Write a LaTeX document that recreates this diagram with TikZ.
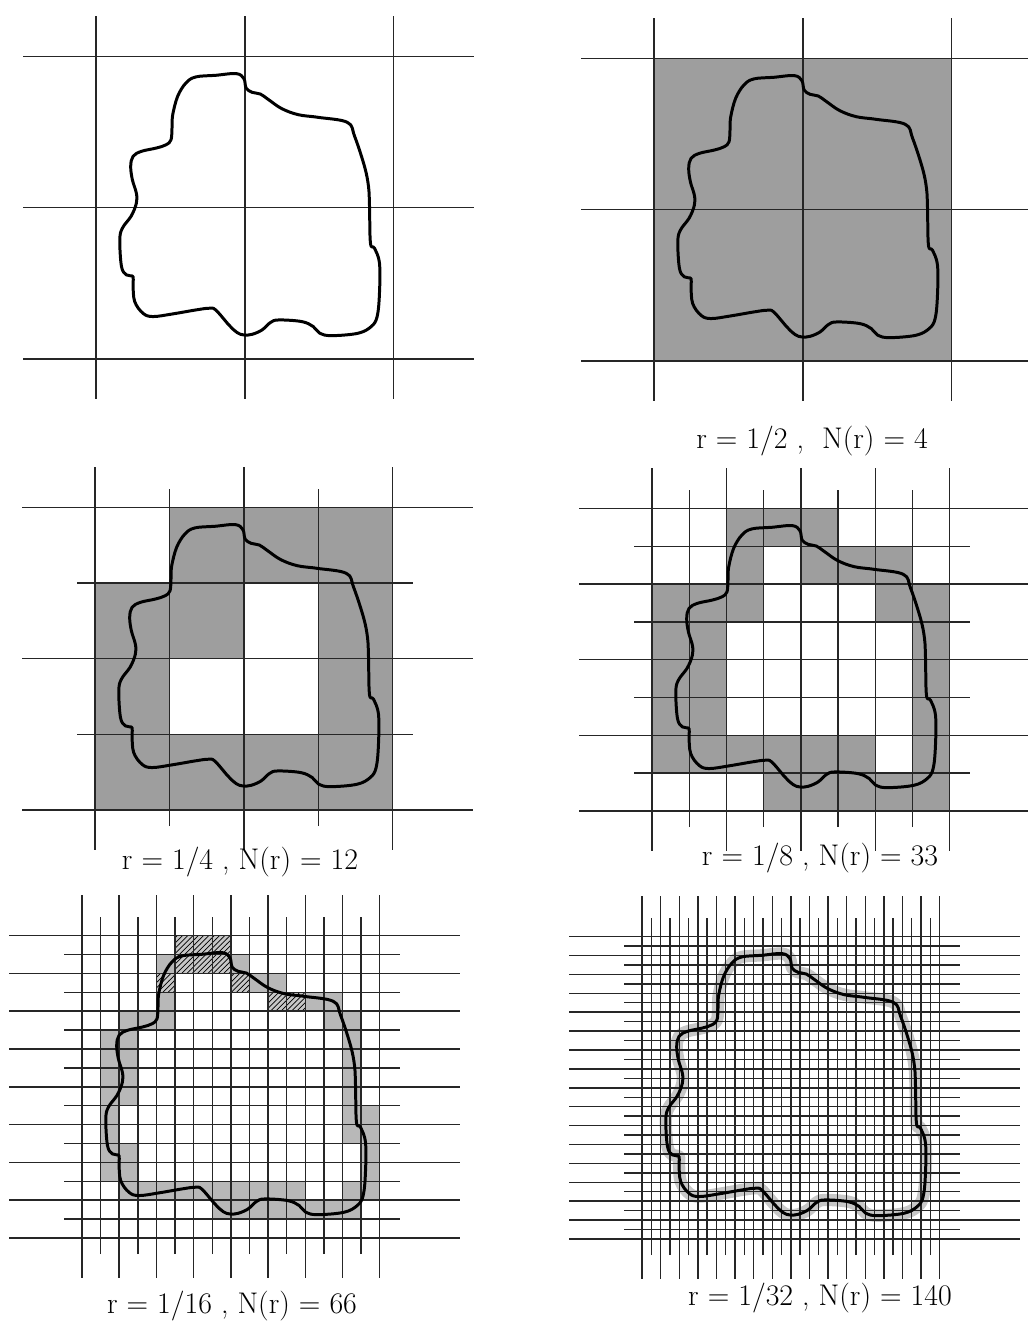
\documentclass[tikz,border=0pt]{standalone}
\usetikzlibrary{patterns}

% outline of the region, in square units (the box is 32 x 32)
\newcommand{\blobpath}{plot[smooth cycle, tension=0.6] coordinates {
    (8.25,25.85) (8.78,27.80) (9.67,29.21) (10.74,29.85) (12.87,30.02) (15.08,30.20)
    (15.90,29.67) (16.14,28.68) (16.78,28.22) (17.67,28.04) (18.56,27.44) (19.98,26.49)
    (21.76,25.85) (23.90,25.57) (27.03,25.04) (27.81,23.56) (28.87,20.38) (29.30,18.26)
    (29.41,16.14) (29.51,12.26) (29.94,11.73) (30.48,10.14) (30.48,6.96) (30.23,4.49)
    (29.59,3.43) (28.16,2.72) (25.32,2.47) (24.07,2.72) (23.36,3.43) (22.12,3.96)
    (19.63,4.13) (18.74,3.85) (17.85,3.07) (16.78,2.61) (15.90,2.54) (15.18,2.79)
    (14.29,3.60) (12.87,5.19) (12.16,5.37) (10.74,5.19) (8.25,4.77) (6.12,4.49)
    (5.05,4.84) (4.16,6.08) (3.98,7.84) (3.98,8.72) (3.27,8.90) (2.74,9.78)
    (2.56,12.61) (2.84,13.85) (3.80,15.15) (4.34,16.49) (4.34,17.55) (3.91,18.97)
    (3.73,20.38) (3.98,21.44) (4.87,21.97) (6.47,22.32) (7.54,22.67) (8.07,23.21)
    (8.18,24.62)}}

% grid of #1 x #1 boxes, every other line drawn longer
\newcommand{\boxgrid}[1]{%
    \foreach \i in {0,...,#1} {
        \pgfmathsetmacro{\pos}{\i*32/#1}
        \pgfmathtruncatemacro{\longline}{(mod(\i,2)==0) || (#1==2)}
        \ifnum\longline=1
            \draw[gridline] (-7.8,\pos) -- (40.6,\pos);
            \draw[gridline] (\pos,-4.2) -- (\pos,36.3);
        \else
            \draw[gridline] (-1.9,\pos) -- (34.2,\pos);
            \draw[gridline] (\pos,-1.7) -- (\pos,34.0);
        \fi
    }%
}

% occupied boxes: #1 = box size, #2 = list row/{columns}, rows counted from the top
\newcommand{\boxcells}[2]{%
    \foreach \r/\cols in {#2} {
        \foreach \c in \cols {
            \fill[cellfill] ({\c*#1},{32-(\r+1)*#1}) rectangle ++(#1,#1);
        }
    }%
}

\begin{document}
\begin{tikzpicture}[
        x=1cm,
        y=1cm,
        gridline/.style={line width=0.8pt, black!85},
        cellfill/.style={fill=black!38},
        hatchcell/.style={fill=black!22, postaction={pattern=north east lines, pattern color=black}},
        blob/.style={line width=1.7pt, line join=round},
        boundaryband/.style={line width=7pt, black!22, line join=round},
        panel/.style={x=0.186cm, y=0.189cm},
        caption/.style={font=\fontsize{17}{20}\selectfont, inner sep=1pt}
    ]
    \useasboundingbox (0,0) rectangle (20.56,26.58);

    % the region alone
    \begin{scope}[shift={(1.92,19.40)}, panel]
        \boxgrid{2}
        \draw[blob] \blobpath;
    \end{scope}

    % r = 1/2
    \begin{scope}[shift={(13.08,19.36)}, panel]
        \fill[cellfill] (0,0) rectangle (32,32);
        \boxgrid{2}
        \draw[blob] \blobpath;
    \end{scope}
    \node[caption] (half) at (16.24,17.76) {r = 1/2 ,\ \ N(r) = 4};

    % r = 1/4
    \begin{scope}[shift={(1.90,10.38)}, panel]
        \boxcells{8}{0/{1,2,3}, 1/{0,1,3}, 2/{0,3}, 3/{0,1,2,3}}
        \boxgrid{4}
        \draw[blob] \blobpath;
    \end{scope}
    \node[caption] (quarter) at (4.80,9.34) {r = 1/4 , N(r) = 12};

    % r = 1/8
    \begin{scope}[shift={(13.04,10.36)}, panel]
        \boxcells{4}{0/{2,3,4}, 1/{2,4,5,6}, 2/{0,1,2,6,7}, 3/{0,1,7}, 4/{0,1,7},
            5/{0,1,7}, 6/{0,1,2,3,4,5,7}, 7/{3,4,5,6,7}}
        \boxgrid{8}
        \draw[blob] \blobpath;
    \end{scope}
    \node[caption] (eighth) at (16.40,9.42) {r = 1/8 , N(r) = 33};

    % r = 1/16
    \begin{scope}[shift={(1.64,1.82)}, panel, cellfill/.style={fill=black!28}]
        \boxcells{2}{1/{4,8}, 2/{9,10}, 3/{4,12,13}, 4/{2,3,4,13,14},
            5/{1,2,14}, 6/{1,2,14}, 7/{1,2,14}, 8/{1,2,14}, 9/{1,14,15}, 10/{1,14,15},
            11/{1,2,15}, 12/{1,2,15}, 13/{2,3,4,5,6,7,8,9,10,11,14,15},
            14/{7,8,9,10,11,12,13,14}}
        \foreach \c/\r in {5/0,6/0,7/0,5/1,6/1,7/1,4/2,8/2,10/3,11/3}
            \fill[hatchcell] ({2*\c},{30-2*\r}) rectangle ++(2,2);
        \boxgrid{16}
        \draw[blob] \blobpath;
    \end{scope}
    \node[caption] (sixteenth) at (4.64,0.46) {r = 1/16 , N(r) = 66};

    % r = 1/32
    \begin{scope}[shift={(12.84,1.80)}, panel]
        \draw[boundaryband] \blobpath;
        \boxgrid{32}
        \draw[blob] \blobpath;
    \end{scope}
    \node[caption] (thirtysecond) at (16.40,0.62) {r = 1/32 , N(r) = 140};
\end{tikzpicture}
\end{document}
